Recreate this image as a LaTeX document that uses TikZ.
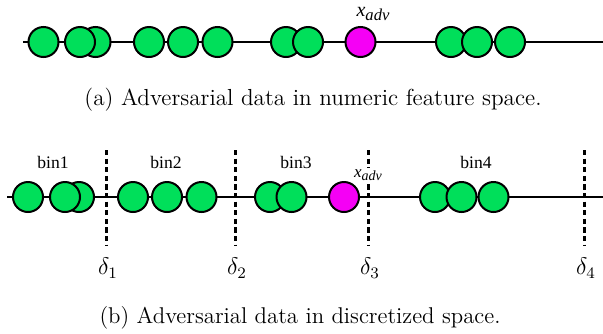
\documentclass[tikz,border=0pt]{standalone}
\usepackage{amsmath,amssymb}
\usepackage{fontspec}
\newfontfamily\timesfont{Liberation Serif}
\usepackage{xcolor}
\usepackage{tikz}
\definecolor{ptgreen}{HTML}{00DF5A}
\definecolor{advmag}{HTML}{F500F5}
\tikzset{
  axis/.style={draw=black, line width=1pt},
  pt/.style={circle, draw=black, fill=ptgreen, line width=1pt, minimum size=15pt, inner sep=0pt},
  adv/.style={pt, fill=advmag},
  thr/.style={draw=black, line width=1.5pt, dash pattern=on 2.6pt off 1.7pt},
  binlab/.style={font=\timesfont\fontsize{8.8}{10}\selectfont, inner sep=0pt},
  advlab/.style={font=\timesfont\itshape, inner sep=1pt},
  dlab/.style={font=\fontsize{12}{14}\selectfont, inner sep=0pt},
  captext/.style={inner sep=0pt},
}
\newcommand{\xadvtop}{{\fontsize{10}{12}\selectfont x\raisebox{-0.35ex}{\fontsize{8.3}{9}\selectfont adv}}}
\newcommand{\xadvbot}{{\fontsize{8.5}{10}\selectfont x\raisebox{-0.35ex}{\fontsize{7}{8}\selectfont adv}}}

\begin{document}
\begin{tikzpicture}[x=0.5pt, y=-0.5pt]
  \useasboundingbox (0,0) rectangle (603,333);
  % (a) numeric feature space
  \coordinate (aL) at (23,42);
  \coordinate (aR) at (603,42);
  \draw[axis] (aL) -- (aR);
  \node[pt] (a1) at (43.5,42) {};
  \node[pt] (a3) at (95.5,42) {};
  \node[pt] (a2) at (80,42) {};
  \node[pt] (a4) at (149,42) {};
  \node[pt] (a5) at (183,42) {};
  \node[pt] (a6) at (217.5,42) {};
  \node[pt] (a7) at (286,42) {};
  \node[pt] (a8) at (308,42) {};
  \node[adv] (aadv) at (360.5,42) {};
  \node[pt] (a9) at (451,42) {};
  \node[pt] (a10) at (477,42) {};
  \node[pt] (a11) at (510,42) {};
  \node[advlab] (aadvlab) at (373,14) {\xadvtop};
  \node[captext, font=\fontsize{11.6}{13}\selectfont] (capa) at (313,100) {(a) Adversarial data in numeric feature space.};
  % (b) discretized space
  \coordinate (bL) at (7,197);
  \coordinate (bR) at (603,197);
  \draw[axis] (bL) -- (bR);
  \coordinate (t1) at (106,150);
  \coordinate (t2) at (235,150);
  \coordinate (t3) at (368,150);
  \coordinate (t4) at (584,150);
  \draw[thr] (t1) -- ++(0,95) coordinate (t1e);
  \draw[thr] (t2) -- ++(0,95) coordinate (t2e);
  \draw[thr] (t3) -- ++(0,95) coordinate (t3e);
  \draw[thr] (t4) -- ++(0,95) coordinate (t4e);
  \node[pt] (b1) at (28,197) {};
  \node[pt] (b3) at (79,197) {};
  \node[pt] (b2) at (65,197) {};
  \node[pt] (b4) at (133,197) {};
  \node[pt] (b5) at (167,197) {};
  \node[pt] (b6) at (201.5,197) {};
  \node[pt] (b7) at (270,197) {};
  \node[pt] (b8) at (291.5,197) {};
  \node[adv] (badv) at (344,197) {};
  \node[pt] (b9) at (435,197) {};
  \node[pt] (b10) at (461.5,197) {};
  \node[pt] (b11) at (493.5,197) {};
  \node[binlab] (bin1) at (53,162) {bin1};
  \node[binlab] (bin2) at (166,162) {bin2};
  \node[binlab] (bin3) at (296,162) {bin3};
  \node[binlab] (bin4) at (476,162) {bin4};
  \node[advlab, fill=white] (badvlab) at (368,175) {\xadvbot};
  \node[dlab] (d1) at (108,268) {$\delta_1$};
  \node[dlab] (d2) at (237,268) {$\delta_2$};
  \node[dlab] (d3) at (370,268) {$\delta_3$};
  \node[dlab] (d4) at (586,268) {$\delta_4$};
  \node[captext, font=\fontsize{11.4}{13}\selectfont] (capb) at (300,318) {(b) Adversarial data in discretized space.};
\end{tikzpicture}
\end{document}
